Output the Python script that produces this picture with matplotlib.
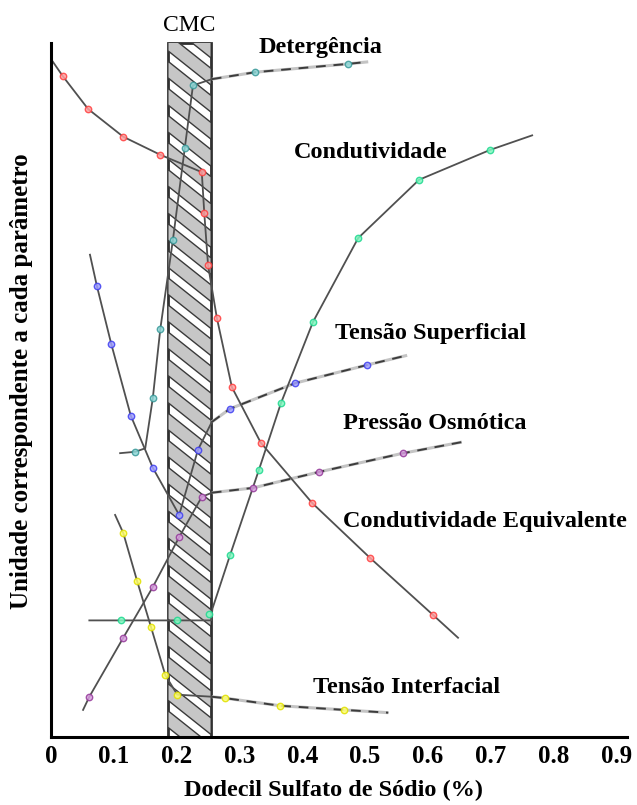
#!/usr/bin/env python3

import matplotlib
matplotlib.use("Agg")
import matplotlib.pyplot as plt
import numpy as np

# concentration range of the critical micelle concentration band
cmc_lo = 0.186
cmc_hi = 0.255

x_ticks = [0, 0.1, 0.2, 0.3, 0.4, 0.5, 0.6, 0.7, 0.8, 0.9]
x_ticklabels = ["0", "0.1", "0.2", "0.3", "0.4", "0.5", "0.6", "0.7", "0.8", "0.9"]

# Detergência
det_x = [0.134, 0.162, 0.174, 0.194, 0.213, 0.226, 0.325, 0.473]
det_y = [41.1, 48.8, 58.8, 71.6, 84.9, 93.9, 95.8, 97.0]
det_line_x = [0.110, 0.134, 0.150, 0.162, 0.174, 0.194, 0.213, 0.226, 0.256, 0.325, 0.473, 0.505]
det_line_y = [40.9, 41.1, 41.6, 48.8, 58.8, 71.6, 84.9, 93.9, 94.8, 95.8, 97.0, 97.3]

# Condutividade
cond_x = [0.111, 0.201, 0.252, 0.285, 0.331, 0.366, 0.417, 0.489, 0.586, 0.699]
cond_y = [16.8, 16.8, 17.7, 26.2, 38.5, 48.1, 59.8, 71.9, 80.3, 84.6]
cond_line_x = [0.061, 0.111, 0.201, 0.255, 0.257, 0.285, 0.331, 0.366, 0.417, 0.489, 0.586, 0.699, 0.766]
cond_line_y = [16.8, 16.8, 16.8, 16.8, 18.5, 26.2, 38.5, 48.1, 59.8, 71.9, 80.3, 84.6, 86.7]

# Condutividade Equivalente
eq_x = [0.019, 0.059, 0.115, 0.174, 0.240, 0.244, 0.250, 0.264, 0.288, 0.334, 0.416, 0.508, 0.608]
eq_y = [95.2, 90.5, 86.5, 83.9, 81.4, 75.5, 68.0, 60.4, 50.4, 42.4, 33.7, 25.8, 17.6]
eq_line_x = [0.003] + eq_x + [0.648]
eq_line_y = [97.3] + eq_y + [14.3]

# Tensão Superficial
ts_x = [0.073, 0.096, 0.127, 0.162, 0.204, 0.234, 0.285, 0.389, 0.503]
ts_y = [65.0, 56.6, 46.3, 38.8, 32.0, 41.4, 47.3, 51.0, 53.6]
ts_line_x = [0.062, 0.073, 0.096, 0.127, 0.162, 0.204, 0.234, 0.256, 0.285, 0.389, 0.503, 0.567]
ts_line_y = [69.5, 65.0, 56.6, 46.3, 38.8, 32.0, 41.4, 45.4, 47.3, 51.0, 53.6, 55.0]

# Pressão Osmótica
po_x = [0.061, 0.115, 0.162, 0.204, 0.240, 0.322, 0.427, 0.561]
po_y = [5.8, 14.3, 21.6, 28.8, 34.6, 35.9, 38.2, 40.9]
po_line_x = [0.051, 0.061, 0.115, 0.162, 0.204, 0.240, 0.256, 0.322, 0.427, 0.561, 0.654]
po_line_y = [3.9, 5.8, 14.3, 21.6, 28.8, 34.6, 35.2, 35.9, 38.2, 40.9, 42.5]

# Tensão Interfacial
ti_x = [0.115, 0.137, 0.159, 0.182, 0.201, 0.277, 0.365, 0.467]
ti_y = [29.4, 22.5, 15.9, 8.9, 6.1, 5.6, 4.5, 3.9]
ti_line_x = [0.102, 0.115, 0.137, 0.159, 0.182, 0.201, 0.256, 0.277, 0.365, 0.467, 0.537]
ti_line_y = [32.0, 29.4, 22.5, 15.9, 8.9, 6.1, 5.8, 5.6, 4.5, 3.9, 3.5]

SERIES = [
    # name, markers x/y, line x/y, face colour, edge colour, two-tone after the CMC
    ("Detergência", det_x, det_y, det_line_x, det_line_y, '#8fd8d8', '#3a9a9a', True),
    ("Condutividade", cond_x, cond_y, cond_line_x, cond_line_y, '#80f8c0', '#20d890', False),
    ("Condutividade Equivalente", eq_x, eq_y, eq_line_x, eq_line_y, '#ffa0a0', '#ff4040', False),
    ("Tensão Superficial", ts_x, ts_y, ts_line_x, ts_line_y, '#a0a0ff', '#4040f0', True),
    ("Pressão Osmótica", po_x, po_y, po_line_x, po_line_y, '#d8a0e0', '#953a9a', True),
    ("Tensão Interfacial", ti_x, ti_y, ti_line_x, ti_line_y, '#ffff70', '#e0e000', True),
]

LABELS = [
    # text, x, y
    ("Detergência", 0.330, 99.4),
    ("Condutividade", 0.386, 84.3),
    ("Tensão Superficial", 0.452, 58.2),
    ("Pressão Osmótica", 0.465, 45.2),
    ("Condutividade Equivalente", 0.465, 31.0),
    ("Tensão Interfacial", 0.417, 7.2),
]

FONT = ['Liberation Serif', 'DejaVu Serif']


def draw_cmc_band(ax):
    band = ax.axvspan(cmc_lo, cmc_hi, facecolor='white', edgecolor='#303030',
                      linewidth=2.0, zorder=1, clip_on=False)
    # diagonal stripes running down to the right, clipped to the band
    width = cmc_hi - cmc_lo
    drop = 72.0 * width
    thick = 2.4
    for y0 in np.arange(-4, 112, 3.9):
        xs = [cmc_lo, cmc_hi, cmc_hi, cmc_lo]
        ys = [y0, y0 - drop, y0 - drop - thick, y0 - thick]
        stripe = ax.fill(xs, ys, facecolor='#c6c6c6', edgecolor='#3a3a3a',
                         linewidth=1.0, zorder=1.2)[0]
        stripe.set_clip_path(band)
    ax.text((cmc_lo + cmc_hi) / 2, 102.6, "CMC", ha='center', va='center',
            fontsize=17, family=FONT, clip_on=False)


def main():
    fig = plt.figure(figsize=(6.37, 8.05), dpi=100)
    ax = fig.add_axes([0.0801, 0.0845, 0.9042, 0.862])

    draw_cmc_band(ax)

    for name, mx, my, lx, ly, face, edge, two_tone in SERIES:
        lx = np.asarray(lx)
        ly = np.asarray(ly)
        if two_tone:
            # thin solid line up to the CMC, grey/dark banded line beyond it
            split = np.searchsorted(lx, cmc_hi)
            ax.plot(lx[:split + 1], ly[:split + 1], color='#505050', linewidth=1.3, zorder=2.1)
            ax.plot(lx[split:], ly[split:], color='#c4c4c4', linewidth=2.2, zorder=2,
                    solid_capstyle='butt')
            ax.plot(lx[split:], ly[split:], color='#3c3c3c', linewidth=1.4, zorder=2.1,
                    dashes=(5, 4), dash_capstyle='butt')
        else:
            ax.plot(lx, ly, color='#505050', linewidth=1.3, zorder=2.1)
        ax.plot(mx, my, linestyle='none', marker='o', markersize=4.6,
                markerfacecolor=face, markeredgecolor=edge, markeredgewidth=1.0,
                alpha=0.85, zorder=3)

    for text, tx, ty in LABELS:
        ax.text(tx, ty, text, ha='left', va='center', fontsize=17.5,
                fontweight='bold', family=FONT)

    ax.set_xlim(0, 0.917)
    ax.set_ylim(0, 100)
    ax.set_xticks(x_ticks)
    ax.set_xticklabels(x_ticklabels, fontsize=18, fontweight='bold', family=FONT)
    ax.set_yticks([])
    ax.tick_params(axis='x', length=0, pad=6)

    for side in ['top', 'right']:
        ax.spines[side].set_visible(False)
    for side in ['left', 'bottom']:
        ax.spines[side].set_linewidth(2.2)
        ax.spines[side].set_color('black')

    ax.set_xlabel("Dodecil Sulfato de Sódio (%)", fontsize=17.5, fontweight='bold',
                  family=FONT, va='center')
    ax.xaxis.set_label_coords(0.49, -0.0775)
    ax.set_ylabel("Unidade correspondente a cada parâmetro", fontsize=18,
                  fontweight='bold', family=FONT, va='center')
    ax.yaxis.set_label_coords(-0.052, 0.513)

    fig.savefig("out.png", dpi=100)


if __name__ == '__main__':
    main()
